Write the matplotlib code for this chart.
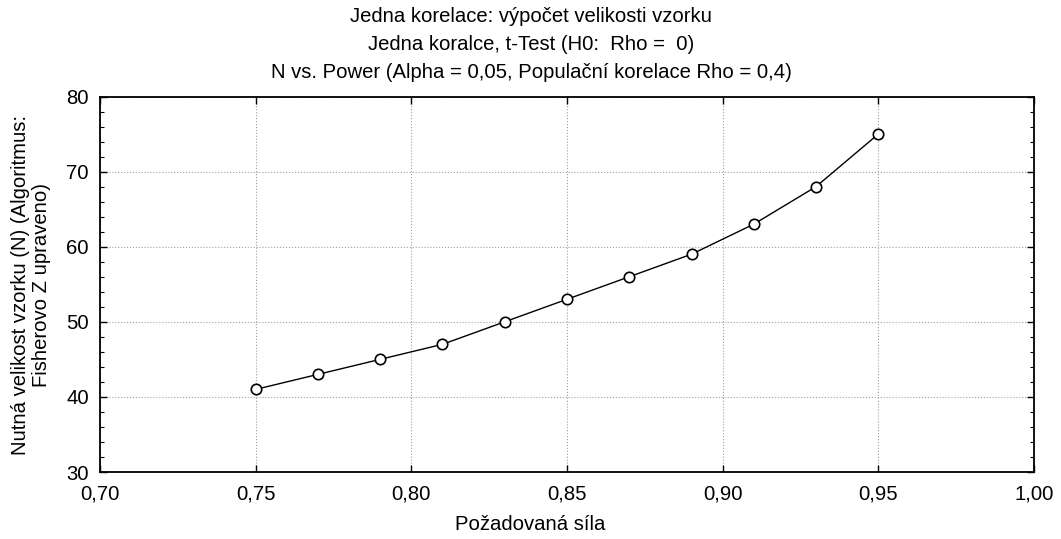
import matplotlib
matplotlib.use("Agg")
import matplotlib.pyplot as plt
from matplotlib.ticker import MultipleLocator, FuncFormatter

plt.rcParams['font.family'] = ['Liberation Sans', 'DejaVu Sans']

power = [0.75, 0.77, 0.79, 0.81, 0.83, 0.85, 0.87, 0.89, 0.91, 0.93, 0.95]
n_required = [41, 43, 45, 47, 50, 53, 56, 59, 63, 68, 75]
title_lines = ["Jedna korelace: výpočet velikosti vzorku",
               "Jedna koralce, t-Test (H0:  Rho =  0)",
               "N vs. Power (Alpha = 0,05, Populační korelace Rho = 0,4)"]
xlabel = "Požadovaná síla"
ylabel = "Nutná velikost vzorku (N) (Algoritmus:\nFisherovo Z upraveno)"

FS = 14.6
W, H = 1061, 539
fig = plt.figure(figsize=(W/100, H/100), dpi=100)
ax = fig.add_axes([100/W, 1-472/H, (1034-100)/W, (472-96.5)/H])

ax.plot(power, n_required, color='black', lw=1.0, marker='o', markersize=7.5,
        markerfacecolor='white', markeredgecolor='black', markeredgewidth=1.2, zorder=3)

ax.set_xlim(0.70, 1.00)
ax.set_ylim(30, 80)
ax.xaxis.set_major_locator(MultipleLocator(0.05))
ax.yaxis.set_major_locator(MultipleLocator(10))
ax.yaxis.set_minor_locator(MultipleLocator(2))
ax.xaxis.set_major_formatter(FuncFormatter(lambda v, p: f"{v:.2f}".replace('.', ',')))
ax.yaxis.set_major_formatter(FuncFormatter(lambda v, p: f"{v:.0f}"))

ax.grid(True, which='major', linestyle=':', color='#a0a0a0', linewidth=0.8)
ax.tick_params(which='both', direction='in', top=True, right=True, labelsize=FS, color='black')
ax.tick_params(which='major', length=5, width=1)
ax.tick_params(which='minor', length=3, width=0.8)
ax.tick_params(axis='x', pad=9)
ax.tick_params(axis='y', pad=8)
for s in ax.spines.values():
    s.set_linewidth(1.3)

fig.text(530/W, 1-524/H, xlabel, ha='center', va='center', fontsize=FS)
fig.text(31/W, 1-285/H, ylabel, ha='center', va='center', rotation=90,
         fontsize=FS, linespacing=1.12, multialignment='center')

ys = [17, 45, 73]
for t, y in zip(title_lines, ys):
    fig.text(531/W, 1-y/H, t, ha='center', va='center', fontsize=FS)

fig.savefig("out.png", dpi=100)
